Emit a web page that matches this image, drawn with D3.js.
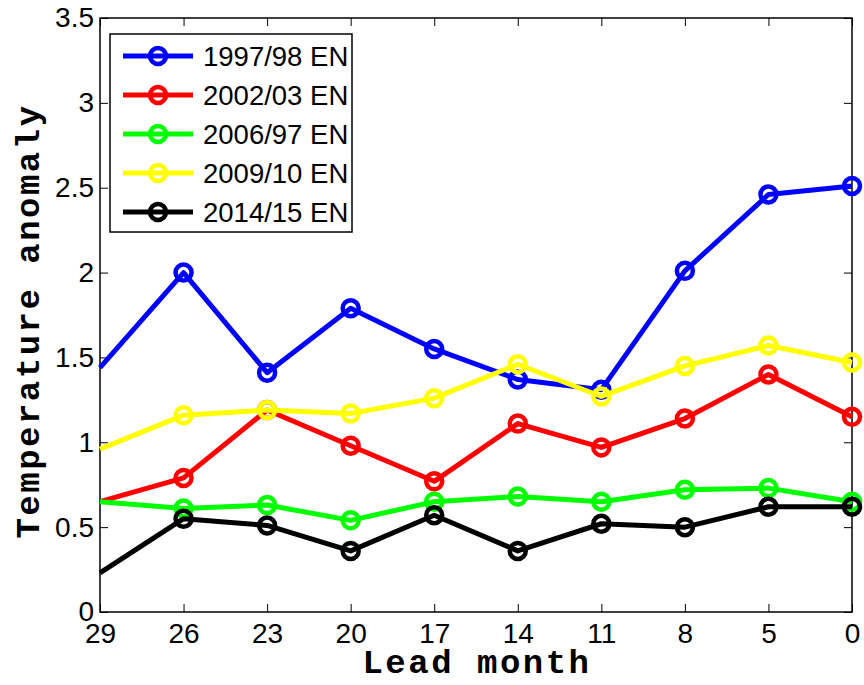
<!DOCTYPE html>
<html>
<head>
<meta charset="utf-8">
<script src="https://cdn.jsdelivr.net/npm/d3@7"></script>
<style>
body{margin:0;background:#fff;}
</style>
</head>
<body>
<div id="chart"></div>
<script>
var leadMonths = ["29","26","23","20","17","14","11","8","5","0"];
var seriesNames = ["1997/98 EN","2002/03 EN","2006/97 EN","2009/10 EN","2014/15 EN"];
var seriesColors = ["#0000ff","#ff0000","#00ff00","#ffff00","#000000"];
var en1997 = [1.44,2.00,1.41,1.79,1.55,1.37,1.31,2.01,2.46,2.51];
var en2002 = [0.65,0.79,1.19,0.98,0.77,1.11,0.97,1.14,1.40,1.15];
var en2006 = [0.65,0.61,0.63,0.54,0.65,0.68,0.65,0.72,0.73,0.65];
var en2009 = [0.96,1.16,1.19,1.17,1.26,1.46,1.27,1.45,1.57,1.47];
var en2014 = [0.23,0.55,0.51,0.36,0.57,0.36,0.52,0.50,0.62,0.62];
var yTicks = [0,0.5,1,1.5,2,2.5,3,3.5];

function chart(){
	var w = 864;
	var h = 685;
	var left = 100, right = 852, top = 18, bottom = 612;

	var values = [en1997,en2002,en2006,en2009,en2014];

	var x = d3.scalePoint()
	.domain(leadMonths)
	.range([left,right]);

	var y = d3.scaleLinear()
	.domain([0,3.5])
	.range([bottom,top]);

	var svg = d3.select("#chart")
	.append("svg")
	.attr("width",w)
	.attr("height",h)
	.style("font-family","'Liberation Sans', Arial, Helvetica, sans-serif");

	// axes, box style with inward ticks
	var tickFmt = d3.format("");
	var yl = svg.append("g")
	.attr("transform","translate("+left+",0)")
	.call(d3.axisLeft(y).tickValues(yTicks).tickSizeInner(-8).tickSizeOuter(0).tickPadding(6).tickFormat(tickFmt));
	var yr = svg.append("g")
	.attr("transform","translate("+right+",0)")
	.call(d3.axisRight(y).tickValues(yTicks).tickSizeInner(-8).tickSizeOuter(0).tickFormat(""));
	var xb = svg.append("g")
	.attr("transform","translate(0,"+bottom+")")
	.call(d3.axisBottom(x).tickSizeInner(-8).tickSizeOuter(0).tickPadding(11));
	var xt = svg.append("g")
	.attr("transform","translate(0,"+top+")")
	.call(d3.axisTop(x).tickSizeInner(-8).tickSizeOuter(0).tickFormat(""));

	[yl,yr,xb,xt].forEach(g => {
		g.select(".domain").remove();
		g.selectAll("line").attr("stroke","#000").attr("stroke-width",1);
		g.selectAll("text")
		.attr("fill","#000")
		.style("font-size","28px")
		.style("font-family","'Liberation Sans', Arial, Helvetica, sans-serif");
	});

	svg.append("rect")
	.attr("x",left)
	.attr("y",top)
	.attr("width",right-left)
	.attr("height",bottom-top)
	.attr("fill","none")
	.attr("stroke","#000")
	.attr("stroke-width",1.5);

	var line = d3.line()
	.x((d,i) => x(leadMonths[i]))
	.y(d => y(d));

	values.forEach((vals,k) => {
		var g = svg.append("g");
		g.append("path")
		.attr("d",line(vals))
		.attr("fill","none")
		.attr("stroke",seriesColors[k])
		.attr("stroke-width",5)
		.attr("stroke-linejoin","round");
		g.selectAll("circle")
		.data(vals.slice(1))
		.enter()
		.append("circle")
		.attr("cx",(d,i) => x(leadMonths[i+1]))
		.attr("cy",d => y(d))
		.attr("r",8)
		.attr("fill","none")
		.attr("stroke",seriesColors[k])
		.attr("stroke-width",4.5);
	});

	// legend
	var lg = svg.append("g");
	lg.append("rect")
	.attr("x",110)
	.attr("y",34)
	.attr("width",242)
	.attr("height",198)
	.attr("fill","#fff")
	.attr("stroke","#000")
	.attr("stroke-width",1.5);
	seriesNames.forEach((name,k) => {
		var ly = 56 + k*39;
		lg.append("line")
		.attr("x1",123).attr("x2",193)
		.attr("y1",ly).attr("y2",ly)
		.attr("stroke",seriesColors[k])
		.attr("stroke-width",5);
		lg.append("circle")
		.attr("cx",158).attr("cy",ly)
		.attr("r",8)
		.attr("fill","none")
		.attr("stroke",seriesColors[k])
		.attr("stroke-width",4.5);
		lg.append("text")
		.attr("x",203)
		.attr("y",ly)
		.attr("dy","0.36em")
		.style("font-size","27.5px")
		.text(name);
	});

	svg.append("text")
	.attr("x",(left+right)/2+1)
	.attr("y",673)
	.attr("text-anchor","middle")
	.style("font-family","'Liberation Mono', 'Courier New', monospace")
	.style("font-weight","bold")
	.style("font-size","34px")
	.style("letter-spacing","2.5px")
	.text("Lead month");

	svg.append("text")
	.attr("transform","translate(39,"+((top+bottom)/2+6)+") rotate(-90)")
	.attr("text-anchor","middle")
	.style("font-family","'Liberation Mono', 'Courier New', monospace")
	.style("font-weight","bold")
	.style("font-size","34px")
	.style("letter-spacing","2.5px")
	.text("Temperature anomaly");
}
chart();
</script>
</body>
</html>
